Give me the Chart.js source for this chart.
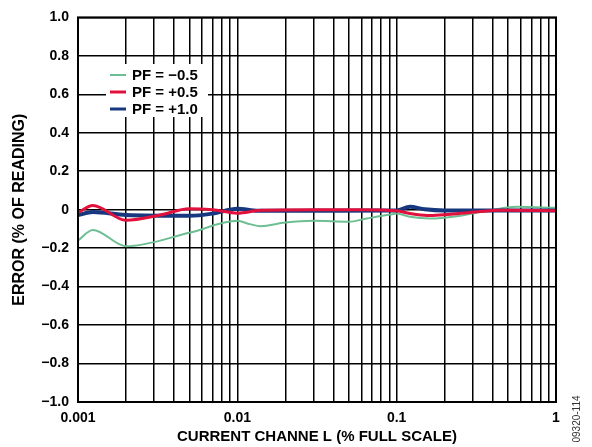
<!DOCTYPE html>
<html lang="en">
<head>
    <meta charset="UTF-8">
    <title>Error vs Current Channel</title>
    <style>
        body, html {
            margin: 0;
            padding: 0;
            background: #fff;
            overflow: hidden;
        }
        #wrap {
            width: 592px;
            height: 447px;
        }
    </style>
</head>
<body>
<div id="wrap"><canvas id="errChart" width="592" height="447"></canvas></div>

<script src="https://cdn.jsdelivr.net/npm/chart.js@4/dist/chart.umd.min.js"></script>
<script>
    // values (x in % full scale, y in % of reading)
    const seriesLabels = ['PF = \u22120.5', 'PF = +0.5', 'PF = +1.0'];
    const seriesColors = ['#6DBE93', '#E2103C', '#17387F'];

    const xPfNeg05 = [0.001, 0.00124, 0.002, 0.005, 0.01, 0.012, 0.014, 0.02, 0.03, 0.05, 0.065, 0.091, 0.1, 0.121, 0.162, 0.239, 0.386, 0.57, 1];
    const yPfNeg05 = [-0.16, -0.105, -0.19, -0.12, -0.058, -0.075, -0.086, -0.067, -0.058, -0.063, -0.046, -0.025, -0.02, -0.037, -0.046, -0.034, -0.003, 0.015, 0.01];

    const xPfPos05 = [0.001, 0.00124, 0.002, 0.00327, 0.005, 0.007, 0.01, 0.014, 0.03, 0.06, 0.1, 0.121, 0.155, 0.289, 0.446, 1];
    const yPfPos05 = [-0.015, 0.022, -0.055, -0.028, 0.005, 0.0, -0.018, -0.003, 0.0, 0.0, -0.006, -0.02, -0.03, -0.015, -0.003, -0.005];

    const xPfPos10 = [0.001, 0.00124, 0.002, 0.005, 0.007, 0.01, 0.0135, 0.03, 0.1, 0.121, 0.15, 0.2, 1];
    const yPfPos10 = [-0.028, -0.012, -0.028, -0.032, -0.02, 0.005, -0.006, -0.005, -0.004, 0.015, 0.002, -0.004, -0.004];

    const yTicks = [-1.0, -0.8, -0.6, -0.4, -0.2, 0, 0.2, 0.4, 0.6, 0.8, 1.0];
    const xDecades = [0.001, 0.01, 0.1, 1];
    const xDecadeLabels = ['0.001', '0.01', '0.1', '1'];

    const FONT = "'Liberation Sans', Arial, sans-serif";

    function toPoints(xs, ys) {
        return xs.map((x, i) => ({ x: x, y: ys[i] }));
    }

    // every 1..9 step in each decade, for the log grid
    function logGridValues() {
        const vals = [];
        for (let d = 0; d < xDecades.length - 1; d++) {
            for (let m = 1; m < 10; m++) vals.push(+(xDecades[d] * m).toPrecision(3));
        }
        vals.push(xDecades[xDecades.length - 1]);
        return vals;
    }

    function fmtY(v) {
        if (Math.abs(v) < 1e-9) return '0';
        return (v < 0 ? '\u2212' : '') + Math.abs(v).toFixed(1);
    }

    const legendBox = {
        id: 'legendBox',
        beforeDatasetsDraw(chart) {
            const ctx = chart.ctx;
            ctx.save();
            ctx.fillStyle = '#fff';
            ctx.fillRect(106, 64, 102, 53);
            ctx.font = 'bold 15px ' + FONT;
            ctx.textBaseline = 'middle';
            const rows = [75, 92, 109];
            seriesLabels.forEach((lab, i) => {
                ctx.strokeStyle = seriesColors[i];
                ctx.lineWidth = i === 0 ? 2 : 3;
                ctx.beginPath();
                ctx.moveTo(110, rows[i]);
                ctx.lineTo(126, rows[i]);
                ctx.stroke();
                ctx.fillStyle = '#000';
                ctx.fillText(lab, 132, rows[i] + 1);
            });
            ctx.restore();
        },
        afterDraw(chart) {
            const ctx = chart.ctx;
            const a = chart.chartArea;
            ctx.save();
            ctx.strokeStyle = '#000';
            ctx.lineWidth = 2;
            ctx.strokeRect(a.left, a.top, a.right - a.left, a.bottom - a.top);
            ctx.translate(577, 419);
            ctx.rotate(-Math.PI / 2);
            ctx.fillStyle = '#333';
            ctx.font = '10px ' + FONT;
            ctx.textAlign = 'center';
            ctx.textBaseline = 'middle';
            ctx.fillText('09320-114', 0, 0);
            ctx.restore();
        }
    };

    const ctx = document.getElementById('errChart').getContext('2d');
    new Chart(ctx, {
        type: 'line',
        data: {
            datasets: [
                { label: seriesLabels[0], data: toPoints(xPfNeg05, yPfNeg05), borderColor: seriesColors[0], borderWidth: 2, order: 2 },
                { label: seriesLabels[1], data: toPoints(xPfPos05, yPfPos05), borderColor: seriesColors[1], borderWidth: 3, order: 0 },
                { label: seriesLabels[2], data: toPoints(xPfPos10, yPfPos10), borderColor: seriesColors[2], borderWidth: 4, order: 1 }
            ]
        },
        options: {
            responsive: false,
            animation: false,
            devicePixelRatio: 1,
            elements: {
                point: { radius: 0 },
                line: { fill: false, cubicInterpolationMode: 'monotone' }
            },
            layout: { padding: { left: 0, right: 36, top: 17, bottom: 0 } },
            plugins: {
                legend: { display: false },
                tooltip: { enabled: false }
            },
            scales: {
                x: {
                    type: 'logarithmic',
                    min: 0.001,
                    max: 1,
                    afterBuildTicks: scale => {
                        scale.ticks = logGridValues().map(v => ({ value: v }));
                    },
                    afterFit: scale => { scale.height = 45; },
                    grid: { color: '#000', lineWidth: 1.5, drawTicks: false },
                    border: { display: false },
                    ticks: {
                        autoSkip: false,
                        maxRotation: 0,
                        padding: 8,
                        color: '#000',
                        font: { family: FONT, size: 14, weight: 'bold' },
                        callback: function(value) {
                            const i = xDecades.findIndex(d => Math.abs(d - value) / d < 1e-6);
                            return i >= 0 ? xDecadeLabels[i] : '';
                        }
                    },
                    title: {
                        display: true,
                        text: 'CURRENT CHANNE L (% FULL SCALE)',
                        color: '#000',
                        font: { family: FONT, size: 15, weight: 'bold' },
                        padding: { top: 0, bottom: 1 }
                    }
                },
                y: {
                    min: -1,
                    max: 1,
                    afterBuildTicks: scale => {
                        scale.ticks = yTicks.map(v => ({ value: v }));
                    },
                    afterFit: scale => { scale.width = 78; },
                    grid: { color: '#000', lineWidth: 1.5, drawTicks: false },
                    border: { display: false },
                    ticks: {
                        padding: 9,
                        color: '#000',
                        font: { family: FONT, size: 14, weight: 'bold' },
                        callback: v => fmtY(v)
                    },
                    title: {
                        display: true,
                        text: 'ERROR (% OF READING)',
                        color: '#000',
                        font: { family: FONT, size: 16, weight: 'bold' },
                        padding: { top: 10, bottom: 0 }
                    }
                }
            }
        },
        plugins: [legendBox]
    });
</script>
</body>
</html>
